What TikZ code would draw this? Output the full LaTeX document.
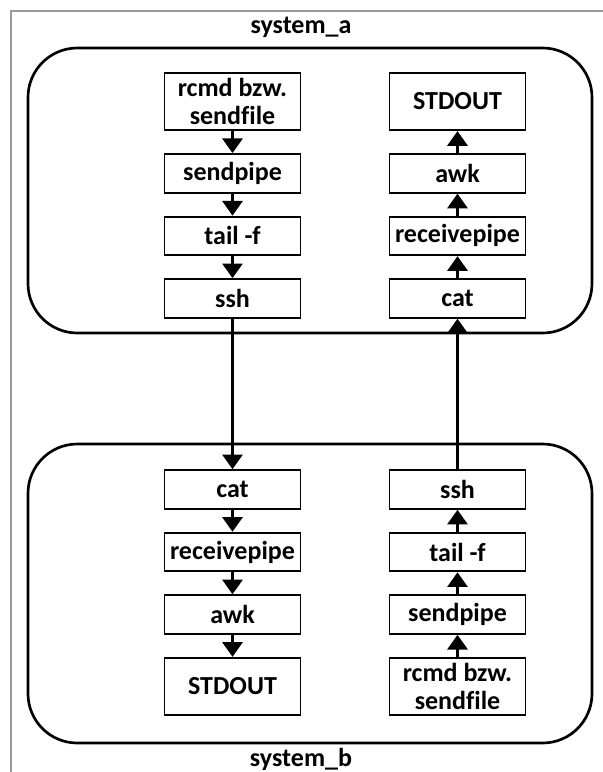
\documentclass[tikz,border=0pt]{standalone}
\usepackage{fontspec}
\setmainfont[Ligatures=NoCommon]{Carlito}
\usetikzlibrary{positioning,arrows.meta}

\begin{document}
\begin{tikzpicture}[
    x=0.75pt, y=-0.75pt,
    node distance=16.5pt,
    every node/.style={
        font=\fontsize{19.5}{20.5}\selectfont\bfseries,
        align=center
    },
    proc/.style={draw, line width=1.4pt, minimum width=102pt, minimum height=29pt, inner sep=1pt},
    tallproc/.style={proc, minimum height=43pt},
    sysbox/.style={draw, line width=2pt, rounded corners=37pt},
    flow/.style={line width=2.2pt, -{Triangle[width=15pt,length=11pt]}}
]
\useasboundingbox (0,0) rectangle (603,772);
\draw[gray!80, line width=0.9pt] (11,772) -- (11,11) -- (603,11);

\draw[sysbox] (28,48) rectangle (592,333);
\draw[sysbox] (28,444) rectangle (592,743);
\node (labelA) at (301,27) {system\_a};
\node (labelB) at (301,759) {system\_b};

\node[tallproc] (sendfileA) at (232.5,101.5) {rcmd bzw.\\sendfile};
\node[proc, below=of sendfileA] (sendpipeA) {sendpipe};
\node[proc, below=of sendpipeA] (tailA) {tail -f};
\node[proc, below=of tailA] (sshA) {ssh};

\node[tallproc] (stdoutA) at (457.5,101.5) {STDOUT};
\node[proc, below=of stdoutA] (awkA) {awk};
\node[proc, below=of awkA] (recvpipeA) {receivepipe};
\node[proc, below=of recvpipeA] (catA) {cat};

\node[proc] (catB) at (232.5,489.5) {cat};
\node[proc, below=of catB] (recvpipeB) {receivepipe};
\node[proc, below=of recvpipeB] (awkB) {awk};
\node[tallproc, below=of awkB] (stdoutB) {STDOUT};

\node[proc] (sshB) at (457.5,489.5) {ssh};
\node[proc, below=of sshB] (tailB) {tail -f};
\node[proc, below=of tailB] (sendpipeB) {sendpipe};
\node[tallproc, below=of sendpipeB] (sendfileB) {rcmd bzw.\\sendfile};

\draw[flow] (sendfileA) -- (sendpipeA);
\draw[flow] (sendpipeA) -- (tailA);
\draw[flow] (tailA) -- (sshA);
\draw[flow] (catA) -- (recvpipeA);
\draw[flow] (recvpipeA) -- (awkA);
\draw[flow] (awkA) -- (stdoutA);

\draw[flow] (catB) -- (recvpipeB);
\draw[flow] (recvpipeB) -- (awkB);
\draw[flow] (awkB) -- (stdoutB);
\draw[flow] (sendfileB) -- (sendpipeB);
\draw[flow] (sendpipeB) -- (tailB);
\draw[flow] (tailB) -- (sshB);

\draw[flow] (sshA) -- (catB);
\draw[flow] (sshB) -- (catA);
\end{tikzpicture}
\end{document}
